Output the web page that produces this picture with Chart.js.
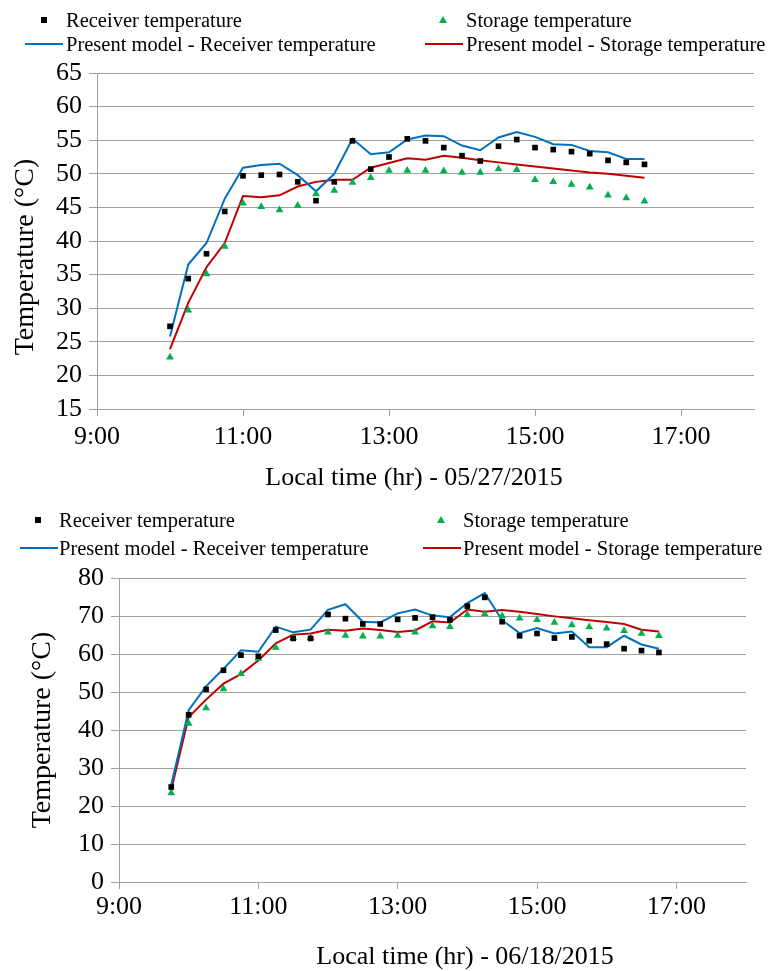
<!DOCTYPE html>
<html>
<head>
<meta charset="utf-8">
<script src="https://cdn.jsdelivr.net/npm/chart.js@4.4.0/dist/chart.umd.min.js"></script>
<style>
  body { margin: 0; background: #fff; }
  #wrap { position: relative; width: 769px; height: 971px; overflow: hidden; font-family: 'Liberation Serif', 'Times New Roman', serif; }
  canvas { position: absolute; left: 0; }
  #c1 { top: 0; }
  #c2 { top: 495px; }
  .lg { position: absolute; white-space: nowrap; font-size: 20.5px; line-height: 24px; color: #000; }
  .mk { position: absolute; }
</style>
</head>
<body>
<div id="wrap">
  <canvas id="c1" width="769" height="495"></canvas>
  <canvas id="c2" width="769" height="476"></canvas>
</div>
<script>
// x ticks (hours) shared by both charts
const xTicks = [9, 11, 13, 15, 17];

// 05/27/2015
const times1 = ['10:00', '10:15', '10:30', '10:45', '11:00', '11:15', '11:30', '11:45', '12:00',
  '12:15', '12:30', '12:45', '13:00', '13:15', '13:30', '13:45', '14:00', '14:15', '14:30',
  '14:45', '15:00', '15:15', '15:30', '15:45', '16:00', '16:15', '16:30'];
const receiver1 = [27.3, 34.4, 38.1, 44.4, 49.7, 49.8, 49.9, 48.8, 46.0, 48.8, 54.9, 50.7, 52.5, 55.2,
  54.9, 53.9, 52.7, 51.9, 54.1, 55.1, 53.9, 53.6, 53.3, 53.0, 52.0, 51.7, 51.4];
const storage1 = [22.7, 29.7, 35.1, 39.2, 45.6, 45.1, 44.6, 45.3, 47.0, 47.5, 48.7, 49.4, 50.5, 50.5,
  50.5, 50.4, 50.2, 50.2, 50.7, 50.6, 49.1, 48.8, 48.4, 48.0, 46.8, 46.4, 45.9];
const modelReceiver1 = [25.8, 36.5, 39.7, 46.3, 50.9, 51.3, 51.5, 49.8, 47.4, 50.0, 55.2, 52.9, 53.2, 55.1,
  55.7, 55.6, 54.2, 53.5, 55.4, 56.2, 55.5, 54.4, 54.3, 53.4, 53.2, 52.2, 52.2];
const modelStorage1 = [23.9, 30.8, 36.1, 39.7, 46.7, 46.5, 46.8, 48.1, 48.8, 49.1, 49.1, 50.9, 51.6, 52.3,
  52.1, 52.7, 52.4, 52.0, 51.7, 51.4, 51.1, 50.8, 50.5, 50.2, 50.0, 49.7, 49.4];

// 06/18/2015
const times2 = ['9:45', '10:00', '10:15', '10:30', '10:45', '11:00', '11:15', '11:30', '11:45', '12:00',
  '12:15', '12:30', '12:45', '13:00', '13:15', '13:30', '13:45', '14:00', '14:15', '14:30', '14:45',
  '15:00', '15:15', '15:30', '15:45', '16:00', '16:15', '16:30', '16:45'];
const receiver2 = [25.0, 44.0, 50.7, 55.7, 59.7, 59.4, 66.3, 64.1, 64.1, 70.4, 69.3, 67.9, 67.9, 69.1, 69.5,
  69.7, 69.0, 72.6, 74.9, 68.5, 64.8, 65.4, 64.2, 64.5, 63.5, 62.6, 61.4, 60.9, 60.4];
const storage2 = [23.4, 41.7, 45.8, 50.8, 54.8, 58.8, 61.7, 64.3, 64.3, 65.7, 64.9, 64.7, 64.7, 64.9, 65.7,
  67.4, 67.2, 70.3, 70.5, 70.0, 69.4, 69.0, 68.3, 67.6, 67.1, 66.8, 66.1, 65.4, 64.8];
const modelReceiver2 = [25.6, 45.2, 51.5, 56.1, 61.0, 60.6, 67.2, 65.7, 66.4, 71.6, 73.1, 68.5, 68.3, 70.7, 71.7,
  70.1, 69.7, 73.4, 76.0, 68.9, 65.5, 66.8, 65.4, 65.9, 61.8, 61.8, 64.8, 62.5, 61.4];
const modelStorage2 = [24.3, 43.4, 48.0, 52.2, 54.7, 58.3, 62.8, 65.1, 65.4, 66.4, 66.1, 66.7, 66.3, 65.8, 66.2,
  68.6, 68.3, 71.7, 71.1, 71.6, 71.1, 70.5, 69.9, 69.4, 68.9, 68.4, 67.9, 66.4, 65.9];

const labels = ['Receiver temperature', 'Storage temperature',
  'Present model - Receiver temperature', 'Present model - Storage temperature'];

const gridColor = '#a0a0a0';
const serif = "'Liberation Serif', 'Times New Roman', serif";

const hours = t => { const p = t.split(':'); return +p[0] + p[1] / 60; };
const pts = (times, vals) => times.map((t, i) => ({ x: hours(t), y: vals[i] }));

// axis titles, placed like the excel original (not exactly centred on the plot)
const axisTitles = {
  id: 'axisTitles',
  afterDraw(chart, args, o) {
    const { ctx, chartArea: a } = chart;
    ctx.save();
    ctx.fillStyle = '#000';
    ctx.textAlign = 'center';
    ctx.textBaseline = 'middle';
    ctx.font = '26px ' + serif;
    ctx.fillText(o.xText, o.xX, o.xY);
    ctx.translate(o.yX, (a.top + a.bottom) / 2 + o.yDy);
    ctx.rotate(-Math.PI / 2);
    ctx.font = '28px ' + serif;
    ctx.fillText(o.yText, 0, 0);
    ctx.restore();
  }
};

function makeChart(id, times, series, y, titles, g) {
  const datasets = [
    { label: labels[0], data: pts(times, series[0]), showLine: false, pointStyle: 'rect', pointRadius: 4,
      backgroundColor: '#000', borderColor: '#000', borderWidth: 0 },
    { label: labels[1], data: pts(times, series[1]), showLine: false, pointStyle: 'triangle', pointRadius: 4.5,
      backgroundColor: '#00B050', borderColor: '#00B050', borderWidth: 0 },
    { label: labels[2], data: pts(times, series[2]), showLine: true, pointRadius: 0,
      borderColor: '#0070C0', borderWidth: 2, backgroundColor: '#0070C0' },
    { label: labels[3], data: pts(times, series[3]), showLine: true, pointRadius: 0,
      borderColor: '#C00000', borderWidth: 2, backgroundColor: '#C00000' }
  ];
  return new Chart(document.getElementById(id), {
    type: 'scatter',
    data: { datasets },
    plugins: [axisTitles],
    options: {
      responsive: false,
      animation: false,
      devicePixelRatio: 1,
      layout: { padding: { top: g.top, right: g.right, left: 0, bottom: 0 } },
      plugins: { legend: { display: false }, tooltip: { enabled: false }, axisTitles: titles },
      scales: {
        x: {
          type: 'linear', min: 9, max: 18,
          afterBuildTicks: s => { s.ticks = xTicks.map(v => ({ value: v })); },
          afterFit: s => { s.height = g.xH; },
          grid: { drawOnChartArea: false, drawTicks: true, tickLength: 7, color: gridColor },
          border: { color: gridColor },
          ticks: { color: '#000', padding: g.xPad, maxRotation: 0, autoSkip: false,
            font: { family: serif, size: 26 }, callback: v => v + ':00' }
        },
        y: {
          min: y.min, max: y.max,
          afterFit: s => { s.width = g.yW; },
          grid: { color: gridColor, tickLength: 8 },
          border: { color: gridColor },
          ticks: { stepSize: y.step, autoSkip: false, color: '#000', padding: 7, font: { family: serif, size: 26 } }
        }
      }
    }
  });
}

// html legend, 2 columns x 2 rows like the original
function legend(chart, L) {
  const wrap = document.getElementById('wrap');
  chart.data.datasets.forEach((ds, i) => {
    const col = i % 2, row = i < 2 ? 0 : 1;
    const cy = L.rows[row];
    const c = L.cols[col];
    const mk = document.createElement('div');
    mk.className = 'mk';
    if (ds.showLine) {
      Object.assign(mk.style, { left: c.line[0] + 'px', top: (cy - 1) + 'px', width: (c.line[1] - c.line[0]) + 'px',
        height: '2px', background: ds.borderColor });
    } else if (ds.pointStyle === 'rect') {
      Object.assign(mk.style, { left: (c.mark - 3) + 'px', top: (cy - 3) + 'px', width: '6px', height: '6px',
        background: ds.backgroundColor });
    } else {
      Object.assign(mk.style, { left: (c.mark - 4) + 'px', top: (cy - 4) + 'px', width: 0, height: 0,
        borderLeft: '4px solid transparent', borderRight: '4px solid transparent',
        borderBottom: '7px solid ' + ds.backgroundColor });
    }
    wrap.appendChild(mk);
    const tx = document.createElement('div');
    tx.className = 'lg';
    tx.textContent = ds.label;
    tx.style.left = c.text + 'px';
    tx.style.top = (cy - 12) + 'px';
    wrap.appendChild(tx);
  });
}

const chart1 = makeChart('c1', times1, [receiver1, storage1, modelReceiver1, modelStorage1],
  { min: 15, max: 65, step: 5 },
  { xText: 'Local time (hr) - 05/27/2015', xX: 414, xY: 478, yText: 'Temperature (°C)', yX: 26, yDy: 16 },
  { top: 73, right: 15, xH: 86, yW: 97, xPad: 6 });

const chart2 = makeChart('c2', times2, [receiver2, storage2, modelReceiver2, modelStorage2],
  { min: 0, max: 80, step: 10 },
  { xText: 'Local time (hr) - 06/18/2015', xX: 465, xY: 462, yText: 'Temperature (°C)', yX: 43, yDy: 0 },
  { top: 83, right: 23, xH: 89, yW: 119, xPad: 3 });

legend(chart1, { rows: [20, 44], cols: [{ mark: 44, line: [25, 63], text: 66 }, { mark: 443, line: [425, 463], text: 466 }] });
legend(chart2, { rows: [520, 548], cols: [{ mark: 38, line: [20, 58], text: 59 }, { mark: 441, line: [423, 461], text: 463 }] });
</script>
</body>
</html>
